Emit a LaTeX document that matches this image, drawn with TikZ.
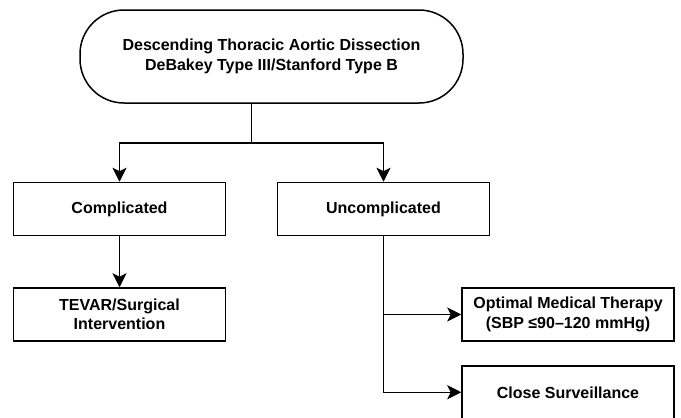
\documentclass[tikz,border=0pt]{standalone}
\usepackage{fontspec}
\setmainfont{Liberation Sans}
\usetikzlibrary{arrows.meta}

\tikzset{
  box/.style={draw, line width=1.5pt, minimum width=212pt, minimum height=53pt,
    align=center, inner sep=0pt, font=\fontsize{16}{19.5}\selectfont\bfseries},
  pill/.style={box, rounded corners=44pt, minimum width=383pt, minimum height=93pt}
}

\begin{document}
\begin{tikzpicture}[>={Stealth[length=14pt, width=14pt, inset=3.5pt]}, x=1pt, y=-1pt, line width=1.5pt]
  % Fix the frame
  \useasboundingbox (0,0) rectangle (681,418);
  \clip (0,0) rectangle (681,418);

  % Nodes
  \node[pill] (diss) at (271.5,56.5) {Descending Thoracic Aortic Dissection\\DeBakey Type III/Stanford Type B};
  \node[box] (comp) at (119.5,209) {Complicated};
  \node[box] (uncomp) at (383.5,209) {Uncomplicated};
  \node[box] (tevar) at (119.5,314.5) {TEVAR/Surgical\\Intervention};
  \node[box] (omt) at (568,314.5) {Optimal Medical Therapy\\(SBP ≤90–120 mmHg)};
  % cut off by the lower edge
  \node[box, minimum height=80pt, text depth=27pt] (surv) at (568,406) {Close Surveillance};
  \coordinate (survin) at ([yshift=-27pt]surv.north west);

  % Split point under the top node
  \coordinate (split) at (251.5,143);

  % Draw connectors
  \draw (split |- diss.south) -- (split);
  \draw[->] (split) -| (comp.north);
  \draw[->] (split) -| (uncomp.north);
  \draw[->] (comp.south) -- (tevar.north);
  \draw[->] (uncomp.south) |- (omt.west);
  \draw[->] (uncomp.south) |- (survin);
\end{tikzpicture}
\end{document}
